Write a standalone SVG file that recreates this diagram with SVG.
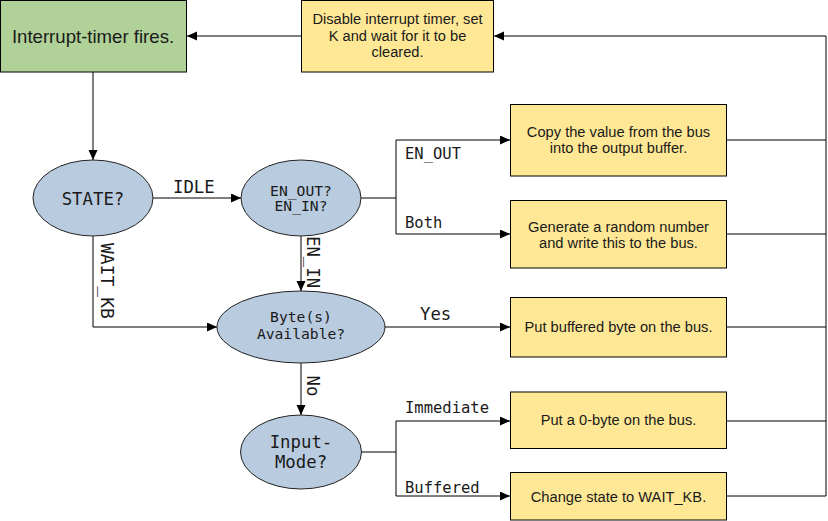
<svg xmlns="http://www.w3.org/2000/svg" width="828" height="521" viewBox="0 0 828 521">
<style>
.box{fill:#ffe895;stroke:#000;stroke-width:1}
.green{fill:#b0d198;stroke:#000;stroke-width:1}
.ell{fill:#b9cbdf;stroke:#222;stroke-width:1}
.t{font-family:"Liberation Sans",Arial,sans-serif;font-size:14.67px;fill:#1a1a1a;text-anchor:middle}
.m{font-family:"DejaVu Sans Mono",monospace;fill:#1a1a1a}
.mc{text-anchor:middle}
.c{fill:none;stroke:#000;stroke-width:1}
</style>
<defs>
<marker id="a" markerUnits="userSpaceOnUse" markerWidth="11" markerHeight="10" refX="10" refY="4.5" orient="auto">
<path d="M0,0 L10,4.5 L0,9 z" fill="#000"/>
</marker>
</defs>
<g id="connectors">
<path class="c" d="M301,36 H187" marker-end="url(#a)"/>
<path class="c" d="M93,72 V160" marker-end="url(#a)"/>
<path class="c" d="M153,198 H241" marker-end="url(#a)"/>
<path class="c" d="M361,198 H396 V140 H510" marker-end="url(#a)"/>
<path class="c" d="M396,198 V234 H510" marker-end="url(#a)"/>
<path class="c" d="M301,236 V291" marker-end="url(#a)"/>
<path class="c" d="M93,236 V327 H217" marker-end="url(#a)"/>
<path class="c" d="M385,327 H510" marker-end="url(#a)"/>
<path class="c" d="M301,363 V415" marker-end="url(#a)"/>
<path class="c" d="M362,452 H396 V421 H510" marker-end="url(#a)"/>
<path class="c" d="M396,452 V496 H510" marker-end="url(#a)"/>
<path class="c" d="M727,140 H826"/>
<path class="c" d="M727,234 H826"/>
<path class="c" d="M727,327 H826"/>
<path class="c" d="M727,421 H826"/>
<path class="c" d="M727,496 H826 V36 H494" marker-end="url(#a)"/>
<text class="m" x="173" y="192.7" font-size="17.33">IDLE</text>
<text class="m" x="405" y="159.3" font-size="15.5">EN_OUT</text>
<text class="m" x="405" y="227.7" font-size="15.5">Both</text>
<text class="m" x="420" y="320" font-size="17.33">Yes</text>
<text class="m" x="405" y="412.7" font-size="15.5">Immediate</text>
<text class="m" x="405" y="493.3" font-size="15.5">Buffered</text>
<text class="m" font-size="17.33" transform="translate(307,236) rotate(90)">EN_IN</text>
<text class="m" font-size="18" transform="translate(100.5,243) rotate(90)">WAIT_KB</text>
<text class="m" font-size="17.33" transform="translate(306.5,375.5) rotate(90)">No</text>
</g>
<g id="timer">
<rect class="green" x="0.5" y="0.5" width="186" height="71.5"/>
<text class="t" x="93" y="42.5" style="font-size:18.6px">Interrupt-timer fires.</text>
</g>
<g id="disable">
<rect class="box" x="301.5" y="0.5" width="192" height="71.5"/>
<text class="t" x="397.5" y="24.3">Disable interrupt timer, set</text>
<text class="t" x="397.5" y="40.7">K and wait for it to be</text>
<text class="t" x="397.5" y="57">cleared.</text>
</g>
<g id="state">
<ellipse class="ell" cx="93" cy="198" rx="60" ry="38"/>
<text class="m mc" x="93" y="205" font-size="17.33">STATE?</text>
</g>
<g id="en">
<ellipse class="ell" cx="301" cy="198" rx="60" ry="38"/>
<text class="m mc" x="301" y="195.7" font-size="14.67">EN_OUT?</text>
<text class="m mc" x="301" y="211" font-size="14.67">EN_IN?</text>
</g>
<g id="copy">
<rect class="box" x="510.5" y="104.5" width="216" height="71.5"/>
<text class="t" x="618.5" y="136.5">Copy the value from the bus</text>
<text class="t" x="618.5" y="153.3">into the output buffer.</text>
</g>
<g id="generate">
<rect class="box" x="510.5" y="200.5" width="216" height="67.5"/>
<text class="t" x="618.5" y="231.7">Generate a random number</text>
<text class="t" x="618.5" y="247.8">and write this to the bus.</text>
</g>
<g id="bytes">
<ellipse class="ell" cx="301" cy="327" rx="84" ry="36"/>
<text class="m mc" x="301" y="322" font-size="14.67">Byte(s)</text>
<text class="m mc" x="301" y="338.5" font-size="14.67">Available?</text>
</g>
<g id="putbuf">
<rect class="box" x="510.5" y="297.5" width="216" height="59.5"/>
<text class="t" x="618.5" y="331.7">Put buffered byte on the bus.</text>
</g>
<g id="inputmode">
<ellipse class="ell" cx="301" cy="452" rx="60.5" ry="37"/>
<text class="m mc" x="301" y="448" font-size="17.33">Input-</text>
<text class="m mc" x="301" y="468" font-size="17.33">Mode?</text>
</g>
<g id="putzero">
<rect class="box" x="510.5" y="392" width="216" height="56.5"/>
<text class="t" x="618.5" y="425">Put a 0-byte on the bus.</text>
</g>
<g id="change">
<rect class="box" x="510.5" y="472.5" width="216" height="47.5"/>
<text class="t" x="618.5" y="501.5">Change state to WAIT_KB.</text>
</g>
</svg>
